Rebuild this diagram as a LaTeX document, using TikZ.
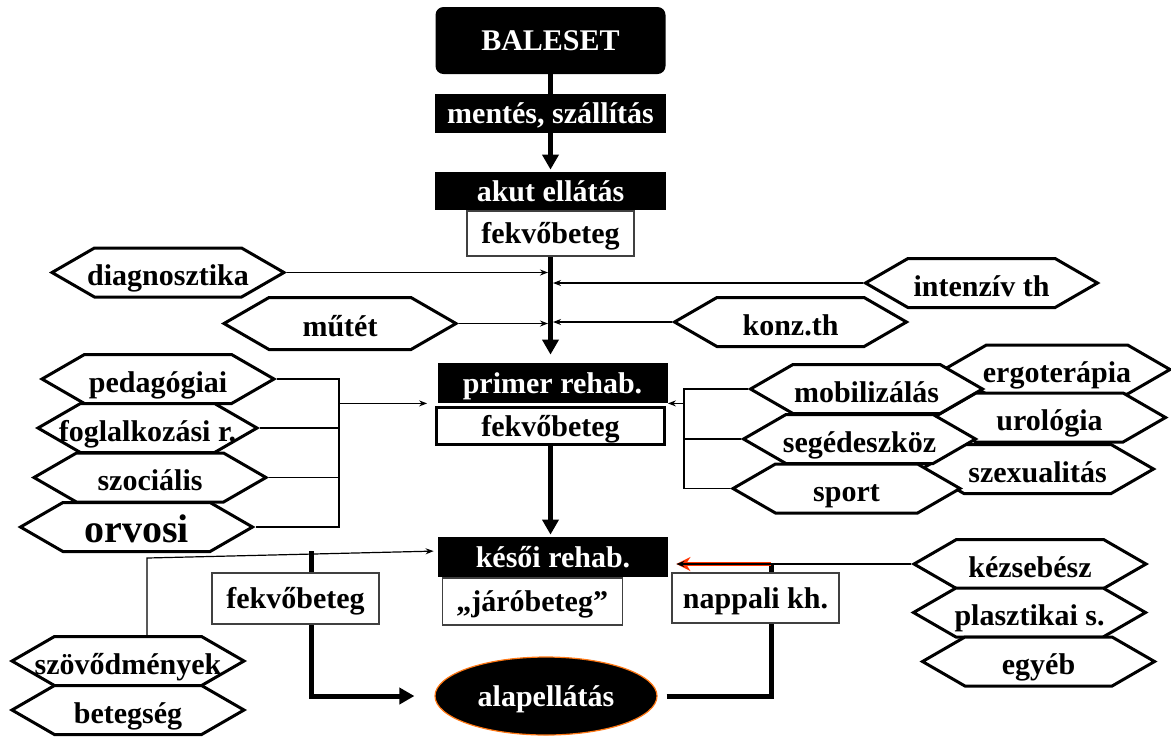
\documentclass[tikz,border=0pt]{standalone}
\usepackage{fontspec}
\setmainfont{Liberation Serif}
\usetikzlibrary{shapes.geometric, shapes.symbols, arrows.meta, positioning, backgrounds}
\definecolor{arrowred}{RGB}{255,51,0}
\definecolor{rimorange}{RGB}{255,120,20}
\tikzstyle{blackbox} = [rectangle, fill=black, text=white, font=\bfseries\fontsize{15}{18}\selectfont, text height=12pt, text depth=2pt, inner sep=0pt, minimum width=115.5pt, minimum height=20pt]
\tikzstyle{whitebox} = [rectangle, draw=black!75, line width=0.6pt, fill=white, font=\bfseries\fontsize{15}{18}\selectfont, text height=12pt, text depth=2pt, inner sep=0pt, minimum width=83.5pt, minimum height=25pt]
\tikzstyle{hexa} = [signal, signal to=west and east, signal pointer angle=60, draw=black, line width=1.5pt, fill=white, inner sep=0pt, minimum width=116pt, minimum height=24.5pt, font=\bfseries\fontsize{15}{18}\selectfont, text height=12pt, text depth=2pt]
\tikzstyle{arrow} = [line width=2.5pt, -{Triangle[length=7.5pt,width=8pt]}]
\tikzstyle{mainline} = [line width=2.5pt]
\tikzstyle{thinarrow} = [line width=0.6pt, -{Stealth[length=4pt,width=3pt]}]
\tikzstyle{thinline} = [line width=0.6pt]
\tikzstyle{redarrow} = [draw=arrowred, line width=2pt, -{Stealth[length=7pt,width=7pt]}]
\newcommand{\hx}[1]{\raisebox{-1.5pt}{\makebox[0pt]{#1}}}
\begin{document}
\begin{tikzpicture}[x=0.5pt, y=-0.5pt]
\useasboundingbox (0,0) rectangle (1171,736);
% main column
\node (bal) [blackbox, rounded corners=4pt, minimum width=115pt, minimum height=33.5pt] at (550.5,40.5) {BALESET};
\node (ment) [blackbox, minimum height=19.5pt] at (550.5,113.5) {mentés, szállítás};
\node (akut) [blackbox, minimum height=19pt] at (550.5,191) {akut ellátás};
\node (fekv1) [whitebox, below=0pt of akut, minimum height=22.5pt] {fekvőbeteg};
\node (prim) [blackbox, minimum width=115pt] at (552.5,383) {primer rehab.};
\node (prim2) [whitebox, draw=black, line width=1.5pt, minimum width=114pt, minimum height=18.5pt, below=1.5pt of prim, xshift=-1pt] {fekvőbeteg};
\node (late) [blackbox, minimum width=115pt] at (553,557) {késői rehab.};
\node (jaro) [whitebox, anchor=north west, minimum width=90pt, minimum height=23.5pt] at ([xshift=2pt]late.south west) {„járóbeteg”};
\node (fekv2) [whitebox, minimum height=25.5pt] at (295.5,598.5) {fekvőbeteg};
\node (napp) [whitebox] at (755.5,598) {nappali kh.};
\node (alap) [ellipse, fill=black, draw=rimorange, line width=0.6pt, text=white, inner sep=0pt, minimum width=111pt, minimum height=39pt, font=\bfseries\fontsize{15}{18}\selectfont, text height=12pt, text depth=2pt] at (546,696) {alapellátás};
% acute care hexagons
\node (diag) [hexa] at (168,272.5) {\hx{diagnosztika}};
\node (intenz) [hexa] at (981.5,283) {\hx{intenzív th}};
\node (mutet) [hexa, minimum height=26pt] at (340,323.5) {\hx{műtét}};
\node (konz) [hexa] at (790.5,322) {\hx{konz.th}};
% left stack
\node (peda) [hexa] at (158,379) {\hx{pedagógiai}};
\node (fogl) [hexa, minimum width=109.5pt] at (147.5,428) {\hx{foglalkozási r.}};
\node (szoc) [hexa] at (150,477.5) {\hx{szociális}};
\node (orvo) [hexa, font=\bfseries\fontsize{20}{24}\selectfont, text height=15pt, text depth=3pt] at (136.5,527) {\hx{orvosi}};
% right stack
\node (ergo) [hexa, minimum width=113pt] at (1057,369.5) {\hx{ergoterápia}};
\node (urol) [hexa] at (1049.5,417.5) {\hx{urológia}};
\node (szex) [hexa] at (1037.5,469) {\hx{szexualitás}};
\node (mobil) [hexa] at (866.5,389) {\hx{mobilizálás}};
\node (seged) [hexa] at (859.5,439) {\hx{segédeszköz}};
\node (sport) [hexa, minimum width=113.5pt] at (846.5,488.5) {\hx{sport}};
% late care hexagons
\node (kezseb) [hexa] at (1030,564) {\hx{kézsebész}};
\node (plaszt) [hexa] at (1029.5,612.5) {\hx{plasztikai s.}};
\node (egyeb) [hexa] at (1038.5,661.5) {\hx{egyéb}};
\node (szov) [hexa] at (128,661) {\hx{szövődmények}};
\node (beteg) [hexa] at (128,710) {\hx{betegség}};
\coordinate (brL) at (339,0);
\coordinate (brR) at (684,0);
\coordinate (rx) at (771,0);
\coordinate (lstart) at (311,551);
\begin{scope}[on background layer]
\draw [arrow, shorten >=1pt] (bal.south) -- (bal.south |- akut.north);
\draw [arrow, shorten >=4pt] (fekv1.south) -- (fekv1.south |- prim.north);
\draw [arrow, shorten >=1pt] (prim2.south) -- (prim2.south |- late.north);
\draw [thinarrow, shorten >=1.25pt] (diag.east) -- (diag.east -| fekv1.south);
\draw [thinarrow, shorten >=1.25pt] (mutet.east) -- (mutet.east -| fekv1.south);
\draw [thinarrow, shorten >=1.25pt] (intenz.west) -- (intenz.west -| fekv1.south);
\draw [thinarrow, shorten >=1.25pt] (konz.west) -- (konz.west -| fekv1.south);
\draw [thinline] (peda.east) -- (peda.east -| brL) -- (orvo.east -| brL) -- (orvo.east);
\draw [thinline] (fogl.east) -- (fogl.east -| brL);
\draw [thinline] (szoc.east) -- (szoc.east -| brL);
\draw [thinarrow, shorten >=5pt] (brL |- prim.south) -- (prim.south west);
\draw [thinline] (mobil.west) -- (mobil.west -| brR) -- (sport.west -| brR) -- (sport.west);
\draw [thinline] (seged.west) -- (seged.west -| brR);
\draw [thinarrow] (brR |- prim.south) -- (prim.south east);
\draw [thinarrow, shorten >=2pt] ([xshift=9.5pt]szov.north) -- ++(0,-77) -- ([yshift=3pt]late.west);
\draw [arrow, shorten >=10pt] (lstart) |- (alap.west);
\draw [mainline, shorten <=4.5pt] (alap.east) -| (kezseb.west -| rx);
\draw [thinline] (kezseb.west) -- (kezseb.west -| rx);
\draw [redarrow, shorten >=4pt] (kezseb.west -| rx) -- (kezseb.west -| late.east);
\draw [thinarrow, shorten >=4pt] (kezseb.west -| rx) -- (kezseb.west -| late.east);
\end{scope}
\end{tikzpicture}
\end{document}
